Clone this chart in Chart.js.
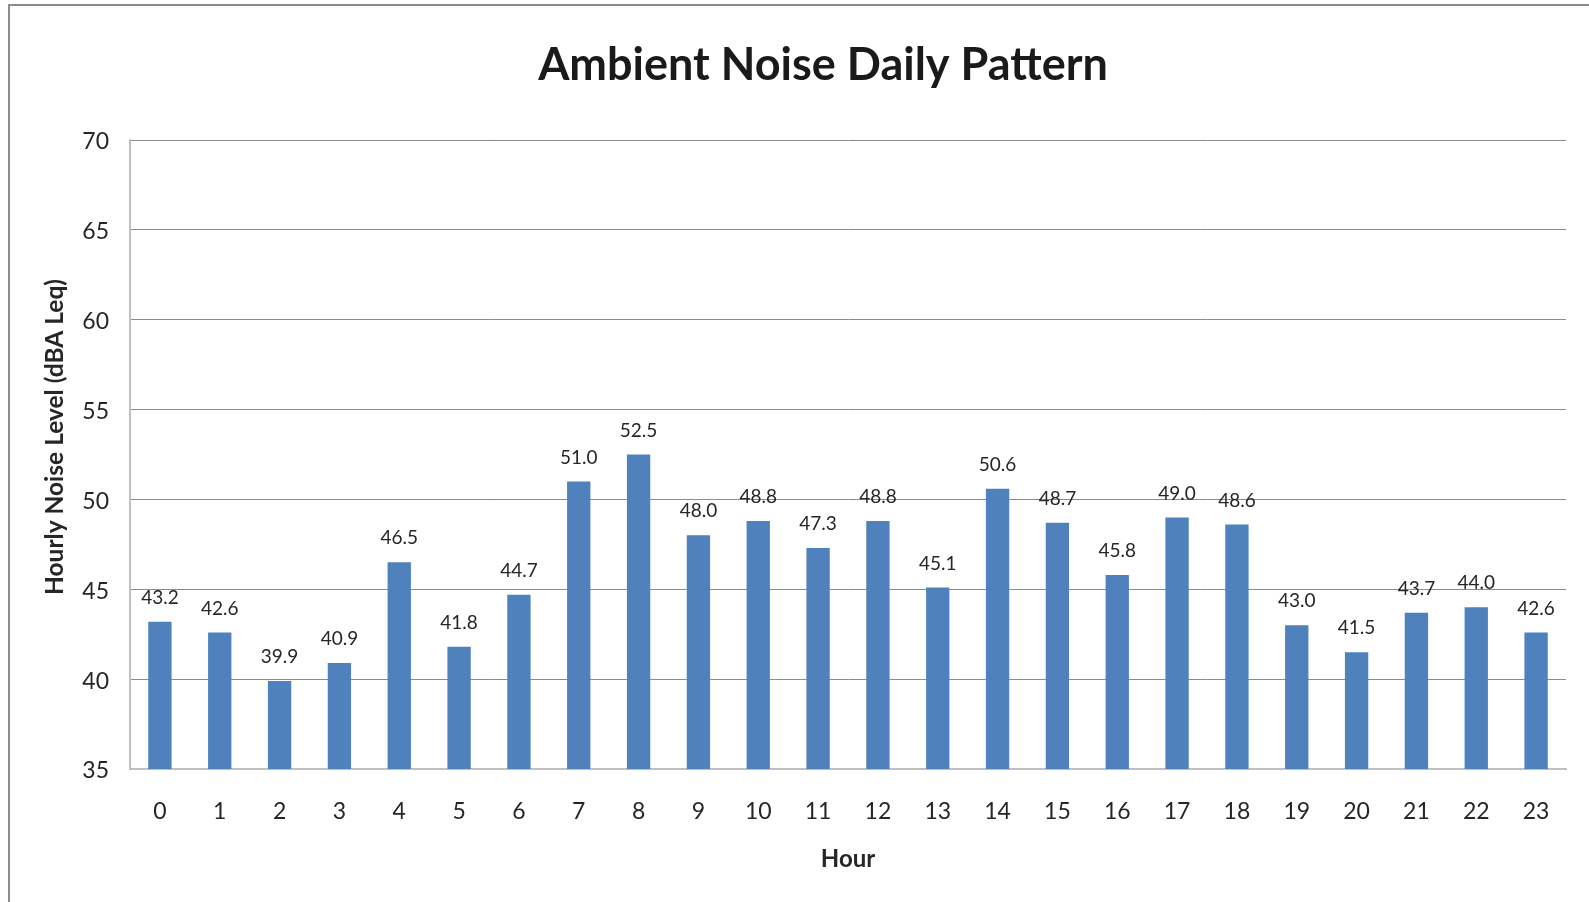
<!DOCTYPE html>
<html>
<head>
<meta charset="utf-8">
<title>Ambient Noise Daily Pattern</title>
<script src="https://cdn.jsdelivr.net/npm/chart.js@4.4.1/dist/chart.umd.min.js"></script>
<style>
  html, body { margin: 0; padding: 0; background: #ffffff; overflow: hidden; }
  #frame {
    position: absolute; left: 8px; top: 4px; width: 2000px; height: 2000px;
    border-left: 2px solid #8c8c8c; border-top: 2px solid #8c8c8c;
  }
  #wrap { position: absolute; left: 0; top: 0; width: 1589px; height: 902px; }
</style>
</head>
<body>
<div id="frame"></div>
<div id="wrap"><canvas id="chart" width="1589" height="902"></canvas></div>
<script>
// Hourly ambient noise levels, dBA Leq
const hours = ['0','1','2','3','4','5','6','7','8','9','10','11','12','13','14','15','16','17','18','19','20','21','22','23'];
const noiseLevels = [43.2, 42.6, 39.9, 40.9, 46.5, 41.8, 44.7, 51.0, 52.5, 48.0, 48.8, 47.3,
                     48.8, 45.1, 50.6, 48.7, 45.8, 49.0, 48.6, 43.0, 41.5, 43.7, 44.0, 42.6];
const yMin = 35;
const yMax = 70;
const yStep = 5;

const chartTitle = 'Ambient Noise Daily Pattern';
const xTitle = 'Hour';
const yTitle = 'Hourly Noise Level (dBA Leq)';

const FONT = 'Lato, "Open Sans", sans-serif';
const TEXT = '#262626';

// Value labels above each bar
const valueLabels = {
  id: 'valueLabels',
  afterDatasetsDraw(chart) {
    const ctx = chart.ctx;
    const meta = chart.getDatasetMeta(0);
    ctx.save();
    ctx.font = '19px ' + FONT;
    ctx.fillStyle = TEXT;
    ctx.textAlign = 'center';
    ctx.textBaseline = 'middle';
    meta.data.forEach((bar, i) => {
      const v = chart.data.datasets[0].data[i];
      ctx.fillText(v.toFixed(1), bar.x, bar.y - 24);
    });
    ctx.restore();
  }
};

// Rotated title for the value axis
const yAxisTitle = {
  id: 'yAxisTitle',
  afterDraw(chart) {
    const ctx = chart.ctx;
    ctx.save();
    ctx.translate(55, 437);
    ctx.rotate(-Math.PI / 2);
    ctx.font = 'bold 24.5px ' + FONT;
    ctx.fillStyle = TEXT;
    ctx.textAlign = 'center';
    ctx.textBaseline = 'middle';
    ctx.fillText(yTitle, 0, 0);
    ctx.restore();
  }
};

new Chart(document.getElementById('chart'), {
  type: 'bar',
  data: {
    labels: hours,
    datasets: [{
      label: 'Noise level',
      data: noiseLevels,
      backgroundColor: '#4F81BD',
      borderWidth: 0,
      barPercentage: 0.39,
      categoryPercentage: 1.0
    }]
  },
  options: {
    responsive: false,
    animation: false,
    devicePixelRatio: 1,
    layout: { padding: { left: 80, right: 23, top: 0, bottom: 28 } },
    plugins: {
      legend: { display: false },
      tooltip: { enabled: false },
      title: {
        display: true,
        text: chartTitle,
        color: '#1a1a1a',
        font: { family: FONT, size: 45, weight: 'bold', lineHeight: 1.2 },
        padding: { top: 38, bottom: 48 }
      }
    },
    scales: {
      x: {
        afterFit(scale) { scale.height = 105; },
        grid: { display: false, drawTicks: false },
        border: { display: true, color: '#c0c0c0', width: 2 },
        ticks: { color: TEXT, font: { family: FONT, size: 23 }, padding: 29, maxRotation: 0 },
        title: {
          display: true,
          text: xTitle,
          color: TEXT,
          font: { family: FONT, size: 24, weight: 'bold', lineHeight: 1.2 },
          padding: { top: 0, bottom: 0 }
        }
      },
      y: {
        min: yMin,
        max: yMax,
        afterFit(scale) { scale.width = 50; },
        grid: {
          drawTicks: false,
          color: (c) => (c.tick && c.tick.value === yMin ? 'rgba(0,0,0,0)' : '#8c8c8c'),
          lineWidth: 1
        },
        border: { display: true, color: '#c0c0c0', width: 2 },
        ticks: { stepSize: yStep, color: TEXT, font: { family: FONT, size: 23 }, padding: 21, labelOffset: 2 },
        title: { display: false, text: yTitle }
      }
    }
  },
  plugins: [valueLabels, yAxisTitle]
});
</script>
</body>
</html>
